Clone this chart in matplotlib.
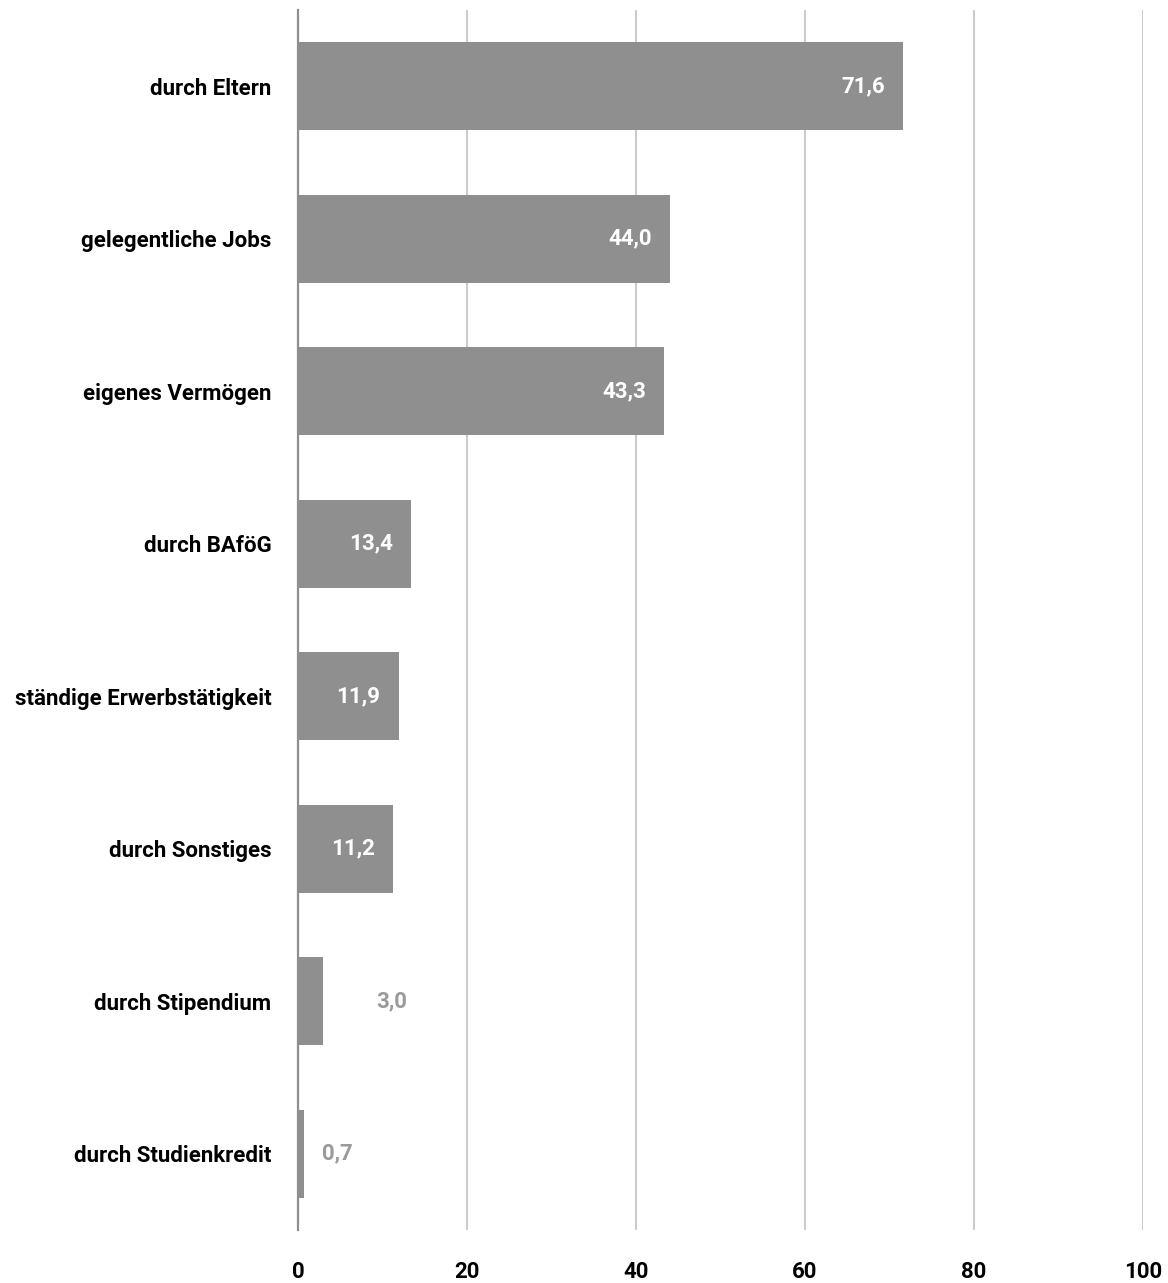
import matplotlib
matplotlib.use('Agg')
from matplotlib import pyplot as plt

# finanzierung des studiums, anteile in prozent
categories = ['durch Eltern', 'gelegentliche Jobs', 'eigenes Vermögen', 'durch BAföG',
              'ständige Erwerbstätigkeit', 'durch Sonstiges', 'durch Stipendium',
              'durch Studienkredit']
values = [71.6, 44.0, 43.3, 13.4, 11.9, 11.2, 3.0, 0.7]
ticks = [0, 20, 40, 60, 80, 100]

plt.rcParams['font.family'] = ['Roboto', 'DejaVu Sans']

bar_color = '#8f8f8f'

fig = plt.figure(figsize=(11.68, 12.83), dpi=100)
ax = fig.add_axes([0.2551, 0.0413, 0.9786 - 0.2551, 0.9922 - 0.0413])

pos = list(range(len(categories)))
ax.barh(pos, values, height=0.58, color=bar_color, zorder=3)

ax.set_xlim(0, 100)
ax.set_ylim(len(categories) - 0.5, -0.5)
ax.set_xticks(ticks)
ax.set_xticklabels([str(t) for t in ticks], fontsize=16, fontweight='bold')
ax.set_yticks(pos)
ax.set_yticklabels(categories, fontsize=16, fontweight='bold')
ax.tick_params(axis='x', length=0, pad=22)
ax.tick_params(axis='y', length=0, pad=19)

ax.grid(axis='x', color='#cccccc', linewidth=1.5, zorder=0)
for s in ['top', 'right', 'bottom']:
    ax.spines[s].set_visible(False)
ax.spines['left'].set_color('#8f8f8f')
ax.spines['left'].set_linewidth(1.6)
ax.spines['left'].set_zorder(4)

for i, v in enumerate(values):
    txt = f'{v:.1f}'.replace('.', ',')
    if v > 8:
        ax.annotate(txt, (v, i), xytext=(-13, 0), textcoords='offset points',
                    ha='right', va='center', color='white', fontsize=16,
                    fontweight='bold', zorder=5)
    else:
        off = 38 if v > 2 else 13
        ax.annotate(txt, (v, i), xytext=(off, 0), textcoords='offset points',
                    ha='left', va='center', color='#9a9a9a', fontsize=16,
                    fontweight='bold', zorder=5)

fig.savefig('out.png', dpi=100)
